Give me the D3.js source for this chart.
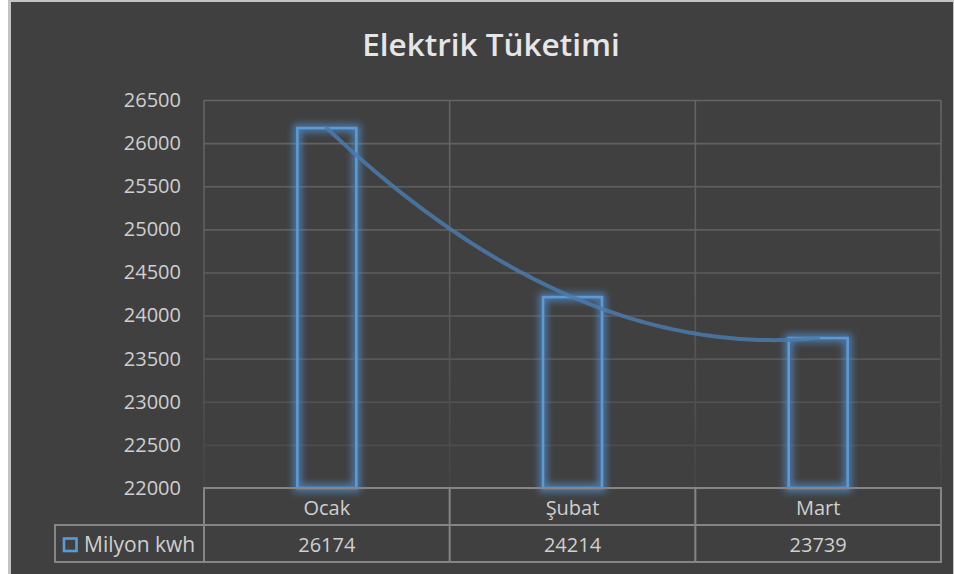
<!DOCTYPE html>
<html>
<head>
<meta charset="utf-8">
<script src="https://cdn.jsdelivr.net/npm/d3@7"></script>
<style>
  html, body { margin: 0; padding: 0; background: #ffffff; }
  svg { display: block; font-family: "Open Sans", "Noto Sans", sans-serif; }
</style>
</head>
<body>
<svg id="chart" width="954" height="574"></svg>
<script>
// Monthly electricity consumption (million kWh)
const months = ["Ocak", "Şubat", "Mart"];
const consumption = [26174, 24214, 23739];
const seriesName = "Milyon kwh";
const yTicks = [22000, 22500, 23000, 23500, 24000, 24500, 25000, 25500, 26000, 26500];
const chartTitle = "Elektrik Tüketimi";

const W = 954, H = 574;
const plot = { left: 204, right: 941, top: 100, bottom: 488 };
const rowH = 37;

const svg = d3.select("#chart");
const defs = svg.append("defs");

// soft blue glow around the bar outlines
const glow = defs.append("filter").attr("id", "glow")
  .attr("x", "-10%").attr("y", "-10%").attr("width", "120%").attr("height", "120%");
glow.append("feGaussianBlur").attr("in", "SourceGraphic").attr("stdDeviation", 3.5);

// gridlines fade out toward the bottom of the plot
const vgrad = defs.append("linearGradient").attr("id", "vfade")
  .attr("gradientUnits", "userSpaceOnUse")
  .attr("x1", 0).attr("y1", plot.top).attr("x2", 0).attr("y2", plot.bottom);
vgrad.append("stop").attr("offset", "0%").attr("stop-color", "#646464");
vgrad.append("stop").attr("offset", "55%").attr("stop-color", "#5a5a5a");
vgrad.append("stop").attr("offset", "100%").attr("stop-color", "#454545");

// chart frame
svg.append("rect").attr("x", 0).attr("y", 0).attr("width", W).attr("height", H).attr("fill", "#ffffff");
svg.append("rect").attr("x", 8).attr("y", 0).attr("width", W - 8).attr("height", H).attr("fill", "#c4c4c4");
svg.append("rect").attr("x", 11).attr("y", 2).attr("width", W - 12).attr("height", H - 2).attr("fill", "#404040");

const y = d3.scaleLinear().domain([22000, 26500]).range([plot.bottom, plot.top]);
const x = d3.scaleBand().domain(months).range([plot.left, plot.right]).paddingInner(0).paddingOuter(0);
const barW = x.bandwidth() * 0.24;

// title
svg.append("text")
  .attr("x", 491).attr("y", 56)
  .attr("text-anchor", "middle")
  .attr("fill", "#e6e6e6")
  .attr("font-size", 31.5).attr("font-weight", 600)
  .text(chartTitle);

// horizontal gridlines + y labels via axis
const yAxis = d3.axisLeft(y).tickValues(yTicks).tickSize(-(plot.right - plot.left)).tickPadding(23).tickFormat(d3.format("d"));
const gy = svg.append("g").attr("transform", `translate(${plot.left},0)`).call(yAxis);
gy.select(".domain").remove();
const gridColor = d3.scaleLinear().domain([plot.top, (plot.top + plot.bottom) / 2 + 40, plot.bottom]).range(["#646464", "#5a5a5a", "#474747"]);
gy.selectAll(".tick line").attr("stroke", d => gridColor(y(d))).attr("stroke-width", 1.6);
gy.selectAll(".tick text").attr("fill", "#cfcfcf").attr("font-size", 20).attr("font-family", "'Open Sans', sans-serif");

// vertical category separators
const seps = months.map(m => x(m)).concat([plot.right]);
svg.append("g").selectAll("line").data(seps).join("line")
  .attr("x1", d => d).attr("x2", d => d)
  .attr("y1", plot.top).attr("y2", plot.bottom)
  .attr("stroke", "url(#vfade)").attr("stroke-width", 1.6);

// bars: blurred halo underneath, crisp outline on top
const barX = (d, i) => x(months[i]) + x.bandwidth() / 2 - barW / 2;
svg.append("g").attr("filter", "url(#glow)").selectAll("rect").data(consumption).join("rect")
  .attr("x", barX)
  .attr("y", d => y(d))
  .attr("width", barW)
  .attr("height", d => plot.bottom - y(d))
  .attr("fill", "none")
  .attr("stroke", "#4f8fd0")
  .attr("stroke-opacity", 0.75)
  .attr("stroke-width", 8);
svg.append("g").selectAll("rect").data(consumption).join("rect")
  .attr("x", barX)
  .attr("y", d => y(d))
  .attr("width", barW)
  .attr("height", d => plot.bottom - y(d))
  .attr("fill", "none")
  .attr("stroke", "#5b9bd5")
  .attr("stroke-width", 2.6);

// second-order polynomial trendline through the series
const n = consumption.length;
const X = d3.range(n);
// least squares fit y = a t^2 + b t + c
function polyFit(ts, vs) {
  const S = k => d3.sum(ts, t => Math.pow(t, k));
  const T = k => d3.sum(ts, (t, i) => Math.pow(t, k) * vs[i]);
  const M = [[S(4), S(3), S(2), T(2)], [S(3), S(2), S(1), T(1)], [S(2), S(1), S(0), T(0)]];
  for (let i = 0; i < 3; i++) {
    let p = i;
    for (let r = i + 1; r < 3; r++) if (Math.abs(M[r][i]) > Math.abs(M[p][i])) p = r;
    [M[i], M[p]] = [M[p], M[i]];
    for (let r = 0; r < 3; r++) {
      if (r === i) continue;
      const f = M[r][i] / M[i][i];
      for (let c = i; c < 4; c++) M[r][c] -= f * M[i][c];
    }
  }
  return [M[0][3] / M[0][0], M[1][3] / M[1][1], M[2][3] / M[2][2]];
}
const [qa, qb, qc] = polyFit(X, consumption);
const tx = d3.scaleLinear().domain([0, n - 1]).range([x(months[0]) + x.bandwidth() / 2, x(months[n - 1]) + x.bandwidth() / 2]);
const trendPts = d3.range(0, n - 1 + 1e-9, 0.02).map(t => [tx(t), y(qa * t * t + qb * t + qc)]);
svg.append("path")
  .attr("d", d3.line()(trendPts))
  .attr("fill", "none")
  .attr("stroke", "#4a7aad")
  .attr("stroke-opacity", 0.85)
  .attr("stroke-width", 4)
  .attr("stroke-linecap", "round");

// data table under the plot
const tbl = svg.append("g");
const border = "#858585";
const tY0 = plot.bottom, tY1 = plot.bottom + rowH, tY2 = plot.bottom + 2 * rowH;
const legendX = 55;
const lines = [
  [plot.left, tY0, plot.right, tY0],
  [legendX, tY1, plot.right, tY1],
  [legendX, tY2, plot.right, tY2],
  [legendX, tY1, legendX, tY2],
  [plot.right, tY0, plot.right, tY2]
].concat(months.map(m => [x(m), tY0, x(m), tY2]));
tbl.selectAll("line").data(lines).join("line")
  .attr("x1", d => d[0]).attr("y1", d => d[1]).attr("x2", d => d[2]).attr("y2", d => d[3])
  .attr("stroke", border).attr("stroke-width", 2).attr("stroke-linecap", "square");

tbl.selectAll("text.cat").data(months).join("text").attr("class", "cat")
  .attr("x", d => x(d) + x.bandwidth() / 2).attr("y", tY0 + 27)
  .attr("text-anchor", "middle").attr("fill", "#cfcfcf").attr("font-size", 20)
  .text(d => d);

tbl.selectAll("text.val").data(consumption).join("text").attr("class", "val")
  .attr("x", (d, i) => x(months[i]) + x.bandwidth() / 2).attr("y", tY1 + 27)
  .attr("text-anchor", "middle").attr("fill", "#cfcfcf").attr("font-size", 20)
  .text(d => d3.format("d")(d));

// legend key
tbl.append("rect").attr("x", 64).attr("y", 538.5).attr("width", 12.5).attr("height", 12.5)
  .attr("fill", "none").attr("stroke", "#5b9bd5").attr("stroke-width", 2.6);
tbl.append("text").attr("x", 84).attr("y", tY1 + 27)
  .attr("fill", "#cfcfcf").attr("font-size", 21).text(seriesName);
</script>
</body>
</html>
